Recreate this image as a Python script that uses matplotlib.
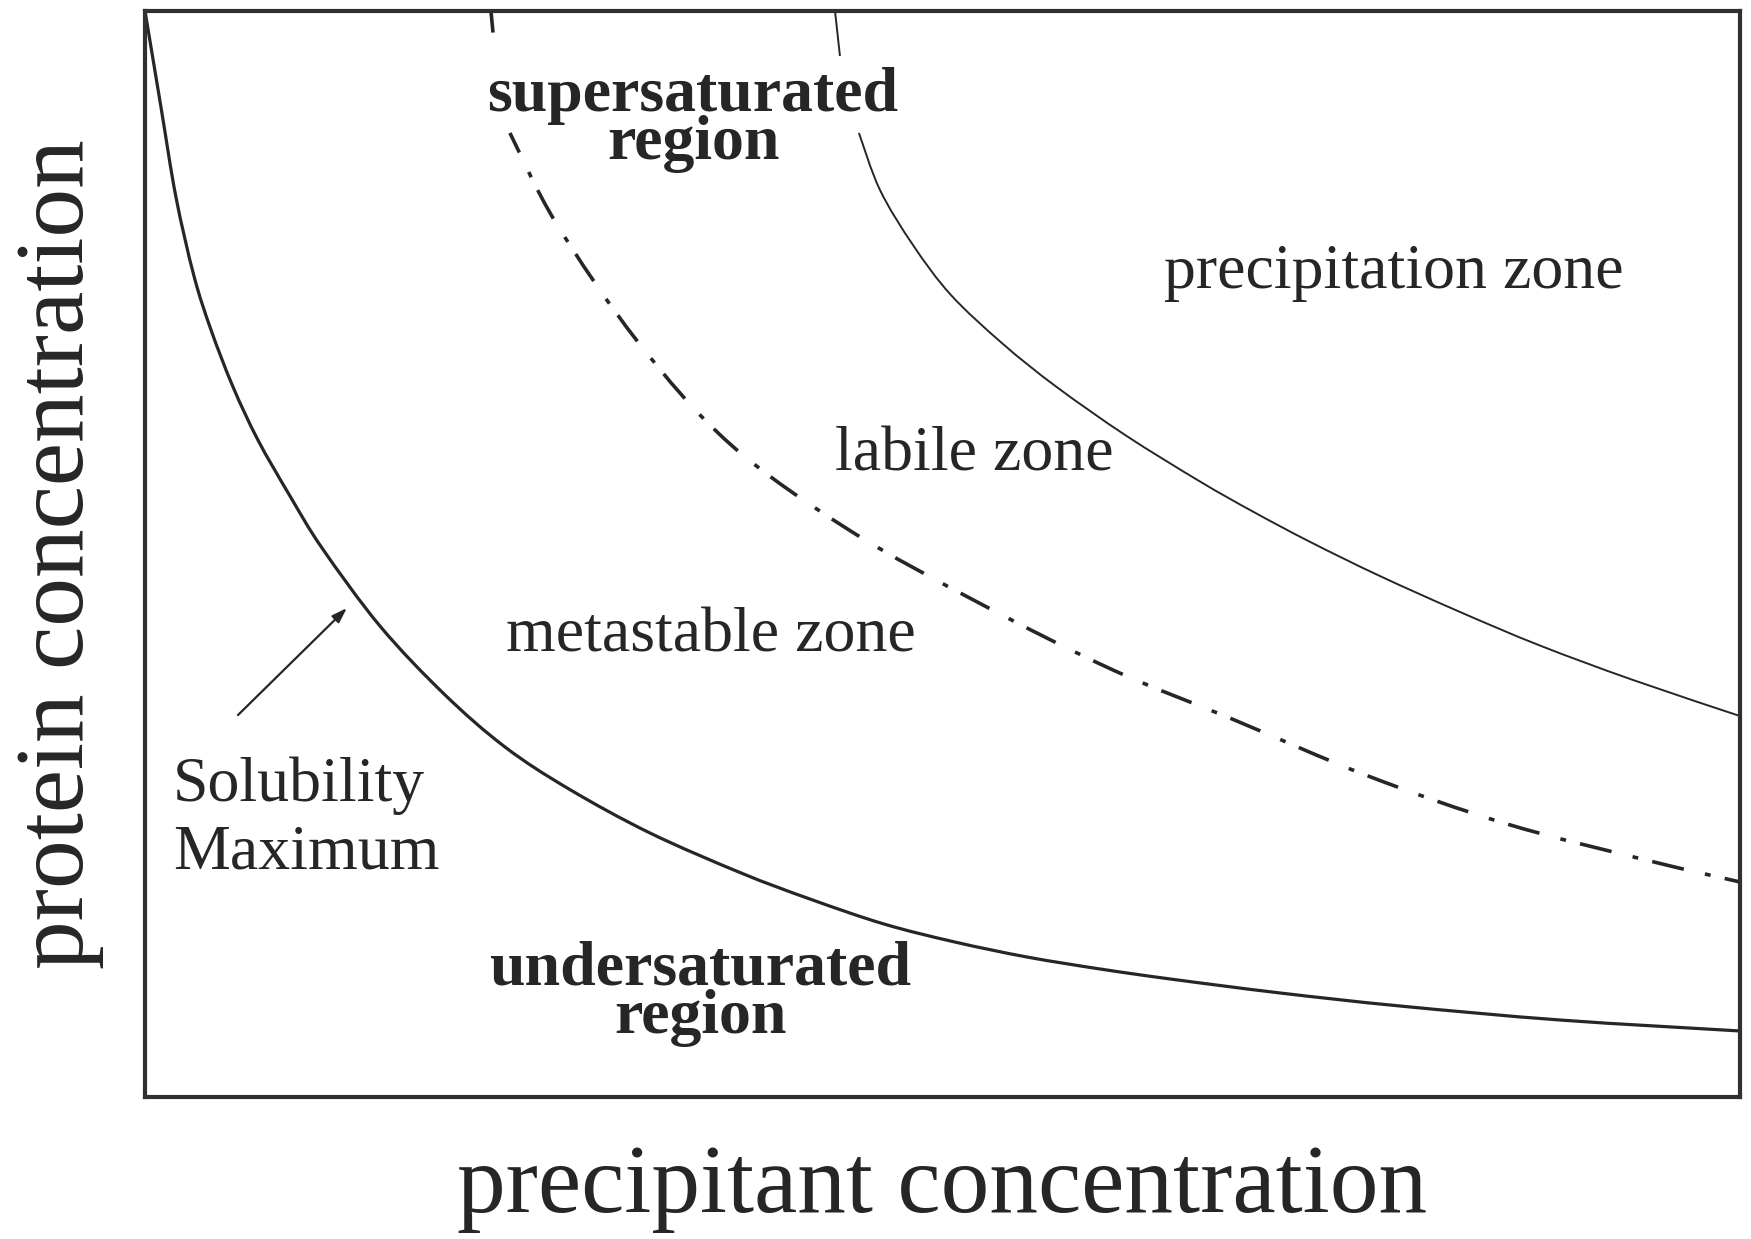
import numpy as np
import matplotlib.pyplot as plt
from matplotlib.path import Path
from matplotlib.patches import PathPatch

plt.rcParams['font.family'] = ['Liberation Serif', 'DejaVu Serif']

## Curves (arbitrary units, 0-100 on both axes)
# solubility curve (solid, heavy)
sol_x = [0.0, 1.0, 1.94, 3.07, 4.14, 5.52, 7.08, 9.09, 11.10, 14.73, 18.75, 22.57,
         26.58, 31.66, 37.37, 41.69, 46.33, 50.78, 55.30, 59.87, 64.26, 71.16,
         78.68, 88.71, 100.0]
sol_y = [100.0, 91.16, 82.87, 75.60, 70.63, 65.38, 60.50, 55.34, 50.55, 43.37, 37.11, 32.23,
         28.36, 24.31, 20.63, 18.23, 15.93, 14.27, 12.89, 11.79, 10.87, 9.58,
         8.38, 7.09, 6.08]

# metastable limit (dash-dot); broken where the top label sits
meta_x = [21.69, 21.94, 22.88, 25.77, 30.91, 36.68, 44.14, 52.41, 60.69, 68.15,
          76.68, 85.39, 94.36, 100.0]
meta_y = [100.0, 96.13, 88.77, 80.48, 69.52, 60.13, 52.21, 45.40, 39.32, 34.81,
          29.56, 25.14, 21.73, 19.80]
meta_gap = 2

# precipitation boundary (thin solid); broken where the top label sits
prec_x = [43.26, 43.57, 44.76, 46.08, 48.15, 50.53, 53.79, 57.12, 61.50, 66.14,
          69.47, 73.04, 77.37, 82.45, 87.46, 93.29, 100.0]
prec_y = [100.0, 95.86, 88.77, 83.52, 78.45, 73.85, 69.34, 65.42, 60.91, 56.68,
          53.90, 51.12, 48.01, 44.66, 41.57, 38.40, 35.08]
prec_gap = 2


def smooth_curve(xs, ys):
    # Catmull-Rom through the read points, drawn as cubic Bezier segments
    p = np.column_stack([xs, ys]).astype(float)
    verts = [p[0]]
    codes = [Path.MOVETO]
    n = len(p)
    for i in range(n - 1):
        p0 = p[i - 1] if i > 0 else p[i]
        p1, p2 = p[i], p[i + 1]
        p3 = p[i + 2] if i + 2 < n else p[i + 1]
        verts += [p1 + (p2 - p0) / 6, p2 - (p3 - p1) / 6, p2]
        codes += [Path.CURVE4] * 3
    return Path(verts, codes)


def draw(xs, ys, **kw):
    ax.add_patch(PathPatch(smooth_curve(xs, ys), fill=False, **kw))


ink = '#262626'
fig = plt.figure(figsize=(17.51, 12.39), dpi=100)
ax = fig.add_axes([145 / 1751, 1 - 1097 / 1239, 1595 / 1751, 1086 / 1239])
ax.set_xlim(0, 100)
ax.set_ylim(0, 100)
ax.set_xticks([])
ax.set_yticks([])
for s in ax.spines.values():
    s.set_linewidth(3.0)
    s.set_color('#303030')

draw(sol_x, sol_y, edgecolor=ink, lw=2.3)
dash = dict(edgecolor=ink, lw=2.6, linestyle=(3, (9, 6, 1.6, 4)), capstyle='butt')
draw(meta_x[:meta_gap], meta_y[:meta_gap], **dash)
draw(meta_x[meta_gap:], meta_y[meta_gap:], **dash)
draw(prec_x[:prec_gap], prec_y[:prec_gap], edgecolor=ink, lw=1.4)
draw(prec_x[prec_gap:], prec_y[prec_gap:], edgecolor=ink, lw=1.4)

fs = 46
ax.text(34.36, 86.37, 'supersaturated\nregion', fontsize=fs, fontweight='bold', color=ink,
        ha='center', va='baseline', multialignment='center', linespacing=0.78)
ax.text(34.8, 5.89, 'undersaturated\nregion', fontsize=fs, fontweight='bold', color=ink,
        ha='center', va='baseline', multialignment='center', linespacing=0.78)
ax.text(63.89, 74.49, 'precipitation zone', fontsize=fs, color=ink, va='baseline')
ax.text(43.26, 57.73, 'labile zone', fontsize=fs, color=ink, va='baseline')
ax.text(22.63, 40.98, 'metastable zone', fontsize=fs, color=ink, va='baseline')
ax.text(1.76, 21.0, 'Solubility\nMaximum', fontsize=fs, color=ink, va='baseline',
        linespacing=1.22)

ax.annotate('', xy=(12.66, 45.03), xytext=(5.83, 35.17),
            arrowprops=dict(arrowstyle='-|>,head_length=0.9,head_width=0.3',
                            color=ink, lw=1.6, shrinkA=0, shrinkB=0))

fig.text(942 / 1751, 1 - 1212 / 1239, 'precipitant concentration', fontsize=70,
         color=ink, ha='center', va='baseline')
fig.text(60 / 1751, 1 - 554 / 1239, 'protein concentration', fontsize=70,
         color=ink, ha='center', va='center', rotation=90)

fig.savefig('out.png', dpi=100, facecolor='white')
